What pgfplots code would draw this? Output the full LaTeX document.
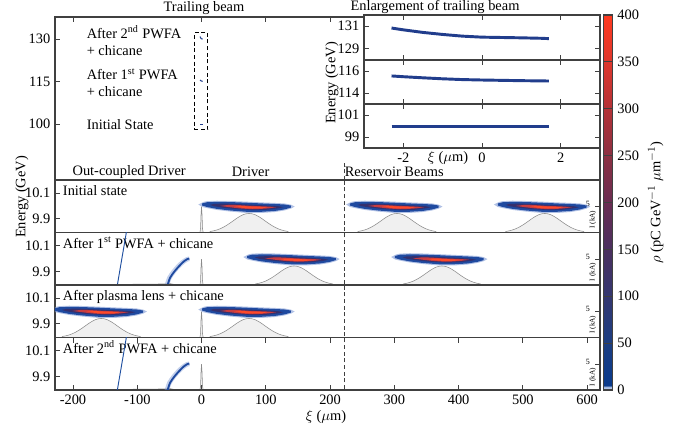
\documentclass[border=0pt]{standalone}
\usepackage{fontspec}
\setmainfont{Liberation Serif}
\usepackage{pgfplots}
\pgfplotsset{compat=1.18}
\usepackage{pgfplotstable}

\definecolor{cfringe}{HTML}{7D98D4}
\definecolor{couter}{HTML}{1F4AA0}
\definecolor{cmid}{HTML}{34306E}
\definecolor{ccore}{HTML}{C83C40}
\definecolor{chot}{HTML}{FF4A28}
\definecolor{cline}{HTML}{1F4FA0}
\definecolor{ctrail}{HTML}{213D8C}
\definecolor{axgray}{HTML}{404040}
\definecolor{cfill}{HTML}{F0F0F0}
\definecolor{cedge}{HTML}{8A8A8A}

\pgfplotsset{colormap={rho}{rgb255(0pt)=(175,195,232) rgb255(3pt)=(175,195,232) rgb255(5pt)=(10,58,140) rgb255(50pt)=(28,62,130) rgb255(100pt)=(52,55,112) rgb255(150pt)=(75,48,95) rgb255(200pt)=(105,45,82) rgb255(250pt)=(140,48,66) rgb255(300pt)=(180,50,55) rgb255(350pt)=(222,55,45) rgb255(400pt)=(255,58,32)}}

\pgfplotsset{
  every axis/.append style={scale only axis,
    font=\fontsize{10.8}{12.8}\selectfont,
    /pgf/number format/assume math mode=true,
    tick align=inside,
    axis line style={line width=0.8pt, axgray},
    major tick length=4pt,
    tick style={line width=0.6pt, axgray}},
  inset/.style={anchor=south west, width=177pt, xmin=-3, xmax=3, xtick={-2,0,2},
    axis background/.style={fill=white}},
  panel/.style={anchor=south west, width=408.75pt, height=39.375pt,
    xmin=-228, xmax=620, ymin=9.795, ymax=10.2, ytick={9.9,10.1}, ytick pos=left, xtick=\empty},
  cur/.style={anchor=south west, width=408.75pt, height=39.375pt,
    xmin=-228, xmax=620, ymin=0, ymax=10.2, xtick=\empty, ytick={5}, yticklabels={}, ytick pos=right},
}

% relative phase-space blob layers (dxi in um, dE in GeV)
\pgfplotstableread{
x y
-74 0.016
-66 0.036
-60 0.042
-45 0.045
-25 0.043
0 0.038
25 0.032
45 0.028
60 0.024
70 0.015
76 0.000
70 -0.016
60 -0.030
45 -0.042
25 -0.049
0 -0.049
-25 -0.038
-45 -0.026
-60 -0.012
-68 -0.003
}\tFringe
\pgfplotstableread{
x y
-68 0.024
-60 0.034
-45 0.036
-25 0.035
0 0.030
25 0.024
45 0.020
60 0.016
70 0.008
70 -0.008
60 -0.022
45 -0.034
25 -0.040
0 -0.040
-25 -0.030
-45 -0.018
-60 -0.004
-68 0.008
}\tOuter
\pgfplotstableread{
x y
-56 0.013
-50 0.020
-35 0.023
-15 0.020
10 0.014
30 0.009
50 0.003
58 -0.005
50 -0.014
30 -0.026
10 -0.027
-15 -0.020
-35 -0.009
-50 0.003
}\tMid
\pgfplotstableread{
x y
-40 0.005
-25 0.014
-10 0.011
5 0.006
20 0.003
35 0.000
47 -0.005
35 -0.014
20 -0.019
5 -0.019
-10 -0.014
-25 -0.005
}\tCore
\pgfplotstableread{
x y
-18 0.001
-5 0.004
10 0.000
25 -0.003
34 -0.007
25 -0.013
10 -0.015
-5 -0.010
}\tHot
% current profile of a beam (dxi, kA)
\pgfplotstableread{
x y
-62 0
-60 0.21
-55 0.33
-50 0.50
-45 0.73
-40 1.03
-35 1.39
-30 1.80
-25 2.24
-20 2.69
-15 3.09
-10 3.42
-5 3.63
0 3.70
5 3.63
10 3.42
15 3.09
20 2.69
25 2.24
30 1.80
35 1.39
40 1.03
45 0.73
50 0.50
55 0.33
60 0.21
62 0
}\tGauss
\pgfplotstableread{
x y
-2.5 0
-1.5 0.8
-0.8 3.5
0 5.0
0.8 3.5
1.5 0.8
2.5 0
}\tSpike
% trailing beam energy vs xi
\pgfplotstableread{
x y
-2.3 130.84
-2.0 130.68
-1.5 130.45
-1.0 130.27
-0.5 130.12
0.0 130.03
0.5 130.00
1.0 129.97
1.5 129.93
1.7 129.90
}\tTrailA
\pgfplotstableread{
x y
-2.3 115.55
-2.0 115.48
-1.5 115.38
-1.0 115.29
-0.5 115.22
0.0 115.18
0.5 115.15
1.0 115.12
1.7 115.09
}\tTrailB
\pgfplotstableread{
x y
-2.3 99.95
-1.0 99.95
0.0 99.95
1.0 99.95
1.7 99.95
}\tTrailC

\newcommand{\blob}[1]{%
  \addplot[fill=cfringe, draw=none, opacity=0.6] table[x expr=\thisrow{x}+#1, y expr=\thisrow{y}+9.995]{\tFringe};
  \addplot[fill=couter, draw=none] table[x expr=\thisrow{x}+#1, y expr=\thisrow{y}+9.995]{\tOuter};
  \addplot[fill=cmid, draw=none] table[x expr=\thisrow{x}+#1, y expr=\thisrow{y}+9.995]{\tMid};
  \addplot[fill=ccore, draw=none] table[x expr=\thisrow{x}+#1, y expr=\thisrow{y}+9.995]{\tCore};
  \addplot[fill=chot, draw=none] table[x expr=\thisrow{x}+#1, y expr=\thisrow{y}+9.995]{\tHot};
}
\newcommand{\gauss}[1]{%
  \addplot[fill=cfill, draw=cedge, line width=0.4pt, smooth] table[x expr=\thisrow{x}+#1, y=y]{\tGauss};
}
\newcommand{\spike}{%
  \addplot[fill=cfill, draw=cedge, line width=0.4pt] table{\tSpike};
}
\newcommand{\resline}{%
  \addplot[axgray, dash pattern=on 3pt off 2pt, line width=0.8pt] coordinates {(222.6,9.7)(222.6,10.3)};
}
\newcommand{\curlabels}{%
  \node[inner sep=0pt, font=\fontsize{6}{6}\selectfont] at (axis cs:601,5.5) {5};
  \node[inner sep=0pt, rotate=90, font=\fontsize{5.5}{6}\selectfont] at (axis cs:609,2.5) {I (kA)};
}
\newcommand{\outcoupled}{%
  \addplot[cline, line width=0.7pt] coordinates {(-131.5,9.78)(-116.5,10.215)};
  \addplot[cfringe, line width=3.4pt, opacity=0.45, smooth] coordinates {(-54,9.79)(-50,9.85)(-43,9.90)(-36,9.94)(-29,9.972)(-23,9.992)(-19,9.997)};
  \addplot[couter, line width=1.4pt, smooth] coordinates {(-53,9.79)(-49,9.85)(-42,9.90)(-35,9.94)(-28,9.975)(-22,9.995)(-19,9.999)};
}
\newcommand{\panlabel}[1]{%
  \node[inner sep=0pt, anchor=base west] at (axis cs:-216,10.08) {#1};
}

\begin{document}
\begin{tikzpicture}[x=0.75pt, y=0.75pt, font=\fontsize{10.8}{12.8}\selectfont]
\useasboundingbox (0,0) rectangle (675,432);

% ---- top-left overview axis ----
\begin{axis}[at={(41.25pt,189pt)}, anchor=south west, width=408.75pt, height=122.25pt,
  xmin=-228, xmax=620, ymin=80.4, ymax=137.7,
  xtick={-200,0,100,200,300,400,500,600}, xticklabels={}, xtick pos=right,
  ytick={100,115,130}, ytick pos=left, clip=false]
  \addplot[ctrail, line width=0.8pt] table{\tTrailA};
  \addplot[ctrail, line width=0.8pt] table{\tTrailB};
  \addplot[ctrail, line width=0.8pt] table{\tTrailC};
  \addplot[black, dash pattern=on 3pt off 2pt, line width=0.7pt] coordinates {(-11,98)(10,98)(10,132.2)(-11,132.2)(-11,98)};
  \addplot[axgray, dash pattern=on 3pt off 2pt, line width=0.8pt] coordinates {(222.6,80.4)(222.6,86.5)};
  \node[inner sep=0pt, anchor=west, align=left] at (axis cs:-179,129.4) {After 2\textsuperscript{nd} PWFA\\+ chicane};
  \node[inner sep=0pt, anchor=west, align=left] at (axis cs:-179,114.7) {After 1\textsuperscript{st} PWFA\\+ chicane};
  \node[inner sep=0pt, anchor=west] at (axis cs:-179,100.05) {Initial State};
  \node[inner sep=0pt, anchor=west] at (axis cs:-201,83.3) {Out-coupled Driver};
  \node[inner sep=0pt, anchor=west] at (axis cs:46.7,83.3) {Driver};
  \node[inner sep=0pt, anchor=west] at (axis cs:222.6,83.3) {Reservoir Beams};
\end{axis}

% ---- inset: enlargement of trailing beam ----
\begin{axis}[inset, at={(273pt,279pt)}, height=33.75pt, ymin=128, ymax=132, ytick={129,131}, xticklabels={}]
  \addplot[ctrail, line width=2.2pt] table{\tTrailA};
\end{axis}
\begin{axis}[inset, at={(273pt,246pt)}, height=33pt, ymin=113, ymax=117, ytick={114,116}, xticklabels={}]
  \addplot[ctrail, line width=2.2pt] table{\tTrailB};
\end{axis}
\begin{axis}[inset, at={(273pt,213pt)}, height=33pt, ymin=98, ymax=102, ytick={99,101}]
  \addplot[ctrail, line width=2.2pt] table{\tTrailC};
\end{axis}

% ---- panel 1: initial state ----
\begin{axis}[cur, at={(41.25pt,149.625pt)}]
  \spike \gauss{74} \gauss{304} \gauss{534}
  \curlabels
\end{axis}
\begin{axis}[panel, at={(41.25pt,149.625pt)}]
  \resline
  \blob{69} \blob{299} \blob{529}
  \panlabel{Initial state}
\end{axis}

% ---- panel 2 ----
\begin{axis}[cur, at={(41.25pt,110.25pt)}]
  \spike \gauss{144} \gauss{374}
  \addplot[cedge, line width=0.4pt] coordinates {(-131,0)(-125,0.12)(-60,0.2)(-48,0.25)(-40,0.05)(-36,0)};
  \curlabels
\end{axis}
\begin{axis}[panel, at={(41.25pt,110.25pt)}]
  \resline
  \blob{139} \blob{369}
  \panlabel{After 1\textsuperscript{st} PWFA + chicane}
  \outcoupled
\end{axis}

% ---- panel 3 ----
\begin{axis}[cur, at={(41.25pt,70.875pt)}]
  \spike \gauss{-156} \gauss{74}
  \curlabels
\end{axis}
\begin{axis}[panel, at={(41.25pt,70.875pt)}]
  \resline
  \blob{-161} \blob{69}
  \panlabel{After plasma lens + chicane}
\end{axis}

% ---- panel 4 ----
\begin{axis}[cur, at={(41.25pt,31.5pt)}]
  \spike
  \addplot[cedge, line width=0.4pt] coordinates {(-131,0)(-125,0.12)(-60,0.2)(-48,0.25)(-40,0.05)(-36,0)};
  \curlabels
\end{axis}
\begin{axis}[panel, at={(41.25pt,31.5pt)}, xtick={-200,-100,...,600}, xtick pos=both, xticklabel pos=left]
  \resline
  \panlabel{After 2\textsuperscript{nd} PWFA + chicane}
  \outcoupled
\end{axis}

% ---- colour bar ----
\begin{axis}[at={(41.25pt,31.5pt)}, anchor=south west, width=408.75pt, height=281.25pt,
  hide axis, xmin=0, xmax=1, ymin=0, ymax=1,
  colormap name=rho, point meta min=0, point meta max=400,
  colorbar,
  colorbar style={at={(1.00606,1)}, anchor=north west, width=7pt, height=281.25pt,
    ytick={0,50,...,400},
    ylabel={$\rho$ (pC GeV$^{-1}$ $\mu$m$^{-1}$)}}]
  \addplot[draw=none] coordinates {(0,0)(1,1)};
\end{axis}

% ---- titles and labels ----
\node at (204,424) {Trailing beam};
\node at (435,425) {Enlargement of trailing beam};
\node[rotate=90] at (332,349) {Energy (GeV)};
\node[inner sep=0pt] at (448,274) {$\xi$ ($\mu$m)};
\node[rotate=90] at (22,235) {Energy (GeV)};
\node at (326,15) {$\xi$ ($\mu$m)};
\end{tikzpicture}
\end{document}
